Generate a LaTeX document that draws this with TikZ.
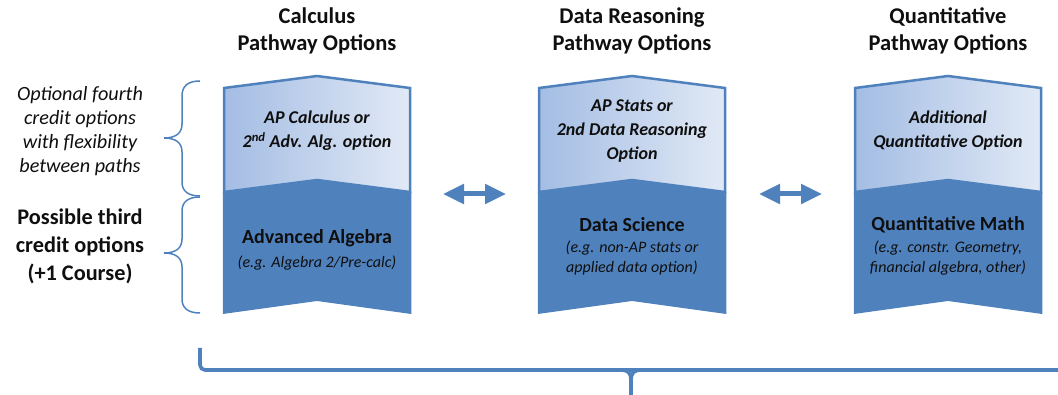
\documentclass[tikz,border=0pt]{standalone}
\usepackage{fontspec}
\setmainfont{Carlito}
\usetikzlibrary{arrows.meta}
\definecolor{blu}{RGB}{79,129,189}
\definecolor{liteL}{RGB}{164,189,228}
\definecolor{liteR}{RGB}{225,233,245}
\definecolor{txt}{RGB}{15,15,15}
\tikzset{
  head/.style={align=center,text=txt,font=\fontsize{22.5}{27}\selectfont\bfseries,inner sep=0pt},
  litetxt/.style={align=center,text=txt,font=\fontsize{18}{24}\selectfont\bfseries\itshape,inner sep=0pt},
  darktitle/.style={text=txt,font=\fontsize{20}{24}\selectfont\bfseries,inner sep=0pt},
  darksub/.style={align=center,text=txt,font=\fontsize{16}{20}\selectfont\itshape,inner sep=0pt},
  sidei/.style={align=center,text=txt,font=\fontsize{20.2}{24}\selectfont\itshape,inner sep=0pt},
  sideb/.style={align=center,text=txt,font=\fontsize{22.3}{28}\selectfont\bfseries,inner sep=0pt},
  litepart/.style={left color=liteL,right color=liteR,draw=blu,line width=2.5pt,line join=miter},
  darkpart/.style={fill=blu},
  brc/.style={draw=blu,line width=1.5pt},
  dbl/.style={draw=blu,line width=5pt,{Triangle[length=21pt,width=19pt]}-{Triangle[length=21pt,width=19pt]}},
  bigbrace/.style={draw=blu,line width=3.6pt},
}
\begin{document}
\begin{tikzpicture}[x=1pt,y=-1pt]
\useasboundingbox (0,0) rectangle (1058,395);

% pathway shapes
\foreach \c in {317,632,948}{
  \path[litepart] (\c-93,88) -- (\c,76) -- (\c+93,88) -- (\c+93,192) -- (\c,180) -- (\c-93,192) -- cycle;
  \path[darkpart] (\c-94.25,192) -- (\c,180) -- (\c+94.25,192) -- (\c+94.25,314) -- (\c,301) -- (\c-94.25,314) -- cycle;
}

% headings
\node[head] (h1) at (317,31) {Calculus\\Pathway Options};
\node[head] (h2) at (632,31) {Data Reasoning\\Pathway Options};
\node[head] (h3) at (948,31) {Quantitative\\Pathway Options};

% light (fourth credit) texts
\node[litetxt] (l1) at (317,131) {AP Calculus or\\2\textsuperscript{nd} Adv. Alg. option};
\node[litetxt] (l2) at (632,131) {AP Stats or\\2nd Data Reasoning\\Option};
\node[litetxt] (l3) at (948,131) {Additional\\Quantitative Option};

% dark (third credit) texts
\node[darktitle] (d1) at (317,238) {Advanced Algebra};
\node[darksub] (s1) at (317,263) {(e.g. Algebra 2/Pre-calc)};
\node[darktitle] (d2) at (632,225) {Data Science};
\node[darksub] (s2) at (632,258) {(e.g. non-AP stats or\\applied data option)};
\node[darktitle] (d3) at (948,225) {Quantitative Math};
\node[darksub] (s3) at (948,258) {(e.g. constr. Geometry,\\financial algebra, other)};

% side labels
\node[sidei] (t4) at (80,131) {Optional fourth\\credit options\\with flexibility\\between paths};
\node[sideb] (t3) at (80,246) {Possible third\\credit options\\(+1 Course)};

% side braces
\draw[brc] (200,81) .. controls (188,81) and (182,86) .. (182,96) -- (182,124)
  .. controls (182,133) and (176,138) .. (164,138)
  .. controls (176,138) and (182,143) .. (182,152) -- (182,182)
  .. controls (182,191) and (188,196) .. (200,196);
\draw[brc] (200,197) .. controls (188,197) and (182,202) .. (182,211) -- (182,239)
  .. controls (182,248) and (176,253) .. (164,253)
  .. controls (176,253) and (182,258) .. (182,267) -- (182,299)
  .. controls (182,308) and (188,313) .. (200,313);

% double arrows
\coordinate (a1l) at (443,194);
\coordinate (a1r) at (506,194);
\coordinate (a2l) at (759,194);
\coordinate (a2r) at (822,194);
\draw[dbl] (a1l) -- (a1r);
\draw[dbl] (a2l) -- (a2r);

% bottom brace
\coordinate (bbl) at (200,348);
\coordinate (bbr) at (1064,370);
\coordinate (bbt) at (631,380);
\coordinate (bbe) at (631,400);
\draw[bigbrace,rounded corners=5pt] (bbl) |- (bbr);
\draw[bigbrace] (621,370) .. controls (628,370) and (631,373) .. (bbt)
  .. controls (631,373) and (634,370) .. (641,370);
\draw[bigbrace] (bbt) -- (bbe);
\end{tikzpicture}
\end{document}
